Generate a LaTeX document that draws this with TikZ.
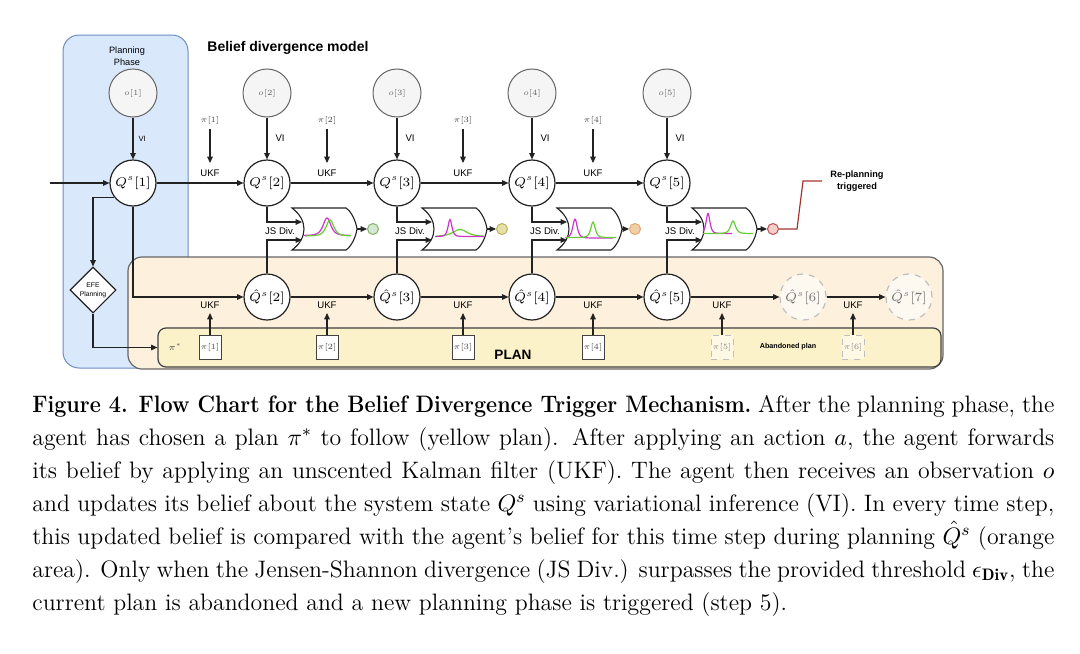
\RequirePackage{fix-cm}
\documentclass[tikz,border=0pt]{standalone}
\usepackage{graphicx}
\usepackage{fontspec}
\setsansfont{Liberation Sans}
\usetikzlibrary{arrows.meta,shapes.geometric}
\definecolor{blueF}{HTML}{DAE8FC}
\definecolor{blueD}{HTML}{6C8EBF}
\definecolor{orgF}{HTML}{FDF1DD}
\definecolor{yelF}{HTML}{FCF2C9}
\definecolor{obsF}{HTML}{F5F5F5}
\definecolor{obsD}{HTML}{666666}
\definecolor{lineC}{HTML}{222222}
\definecolor{magC}{HTML}{CC33CC}
\definecolor{grnC}{HTML}{66CC33}
\definecolor{cAF}{HTML}{D5E8D4}\definecolor{cAD}{HTML}{82B366}
\definecolor{cBF}{HTML}{E4E1A8}\definecolor{cBD}{HTML}{BFB35A}
\definecolor{cCF}{HTML}{F3CFA8}\definecolor{cCD}{HTML}{E0A870}
\definecolor{cDF}{HTML}{F8CECC}\definecolor{cDD}{HTML}{B85450}
\definecolor{redL}{HTML}{A33330}
\newcommand\capfont{\rmfamily\fontsize{11.9}{16.5}\selectfont}
\newcommand\gateshape{\path[gatestyle] (0,0) -- (54,0) .. controls (60,4) and (64,14) .. (65,21) .. controls (64,28) and (60,38) .. (54,42) -- (0,42) .. controls (16,30) and (16,12) .. (0,0) -- cycle;}
\newcommand\pk[6]{\draw[#1, line width=0.6pt] plot[domain=#2, samples=70, smooth] (\x, {#3 - #4*(1/(1+((\x-#5)/#6)^2))^2});}
\begin{document}
\begin{tikzpicture}[x=0.5pt,y=-0.5pt,
  ln/.style={draw=lineC, line width=0.55pt},
  arr/.style={ln, -{Triangle[length=3.2pt,width=2.8pt]}},
  obs/.style={circle, draw=obsD, fill=obsF, line width=0.5pt, minimum size=24pt, inner sep=0pt, font=\fontsize{4}{5}\selectfont, text=obsD},
  qs/.style={circle, draw=lineC, fill=white, line width=0.6pt, minimum size=23pt, inner sep=0pt, font=\fontsize{6.3}{7}\selectfont},
  qd/.style={qs, draw=black!25, dashed, fill=orgF!45!white, text=black!55},
  lab/.style={font=\sffamily\fontsize{4.8}{5.5}\selectfont, inner sep=0pt},
  pil/.style={font=\fontsize{4}{5}\selectfont, text=black!70, inner sep=0pt},
  pib/.style={rectangle, draw=lineC!85, fill=white, minimum width=11pt, minimum height=12pt, inner sep=0pt, font=\fontsize{4}{5}\selectfont, text=black!70, line width=0.5pt},
  pibd/.style={pib, draw=black!25, dashed, fill=yelF!50!white, text=black!45},
  gatestyle/.style={draw=lineC, fill=white, line width=0.55pt},
  outc/.style={circle, minimum size=5.5pt, inner sep=0pt, line width=0.5pt},
  mag/.style={draw=magC},
  grn/.style={draw=grnC}
]
\useasboundingbox (0,0) rectangle (1080,653);
\fill[white] (0,0) rectangle (1080,653);

% regions
\node[draw=blueD, fill=blueF, rounded corners=8pt, line width=0.5pt, minimum width=62.5pt, minimum height=166.5pt, inner sep=0pt] (phase) at (125.5,201.5) {};
\node[draw=black!60, fill=orgF, rounded corners=7pt, line width=0.6pt, minimum width=407.5pt, minimum height=56pt, inner sep=0pt] (orange) at (535.5,313) {};
\node[draw=black!75, fill=yelF, rounded corners=4pt, line width=0.6pt, minimum width=391.5pt, minimum height=19.5pt, inner sep=0pt] (plan) at (549.5,347.5) {};

% texts
\node[font=\sffamily\fontsize{4.6}{6}\selectfont, align=center, inner sep=0pt] (phtxt) at (127,56) {Planning\\Phase};
\node[anchor=west, inner sep=0pt, font=\sffamily\bfseries\fontsize{7}{8}\selectfont] (title) at (207,48) {Belief divergence model};
\node[inner sep=0pt, font=\sffamily\bfseries\fontsize{6.8}{8}\selectfont] (plantxt) at (513,355) {PLAN};
\node[inner sep=0pt, font=\sffamily\bfseries\fontsize{3.6}{4}\selectfont] (aband) at (788,347) {Abandoned plan};
\node[inner sep=0pt, font=\sffamily\bfseries\fontsize{4.6}{6}\selectfont, align=center] (rptxt) at (857,181) {Re-planning\\triggered};

% observations
\node[obs] (o1) at (133,93) {$o[1]$};
\node[obs] (o2) at (267,93) {$o[2]$};
\node[obs] (o3) at (397,93) {$o[3]$};
\node[obs] (o4) at (532,93) {$o[4]$};
\node[obs] (o5) at (667,93) {$o[5]$};

% beliefs
\node[qs] (Qs1) at (133,183) {$Q^s[1]$};
\node[qs] (Qs2) at (267,183) {$Q^s[2]$};
\node[qs] (Qs3) at (397,183) {$Q^s[3]$};
\node[qs] (Qs4) at (532,183) {$Q^s[4]$};
\node[qs] (Qs5) at (667,183) {$Q^s[5]$};

\node[qs] (Qh2) at (267,297) {$\hat{Q}^s[2]$};
\node[qs] (Qh3) at (397,297) {$\hat{Q}^s[3]$};
\node[qs] (Qh4) at (532,297) {$\hat{Q}^s[4]$};
\node[qs] (Qh5) at (667,297) {$\hat{Q}^s[5]$};
\node[qd] (Qh6) at (803,297) {$\hat{Q}^s[6]$};
\node[qd] (Qh7) at (909,297) {$\hat{Q}^s[7]$};

\node[diamond, draw=lineC, fill=white, line width=0.55pt, minimum width=23pt, minimum height=23pt, inner sep=0pt, align=center, font=\sffamily\fontsize{3.4}{4.6}\selectfont] (efe) at (93,290) {EFE\\Planning};

% VI arrows
\draw[arr] (o1) -- node[right=2.5pt, inner sep=0pt, font=\sffamily\fontsize{3.8}{4.5}\selectfont] (vi1) {VI} (Qs1);
\draw[arr] (o2) -- node[right=4pt, lab] (vi2) {VI} (Qs2);
\draw[arr] (o3) -- node[right=4pt, lab] (vi3) {VI} (Qs3);
\draw[arr] (o4) -- node[right=4pt, lab] (vi4) {VI} (Qs4);
\draw[arr] (o5) -- node[right=4pt, lab] (vi5) {VI} (Qs5);

% top row UKF
\coordinate (inL) at (50,183);
\draw[arr] (inL) -- (Qs1);
\draw[arr] (Qs1) -- (Qs2);
\draw[arr] (Qs2) -- (Qs3);
\draw[arr] (Qs3) -- (Qs4);
\draw[arr] (Qs4) -- (Qs5);
\foreach \i/\xx in {1/210,2/327,3/463,4/593}{
  \node[pil] (pt\i) at (\xx,120) {$\pi[\i]$};
  \coordinate (pe\i) at (\xx,163);
  \draw[arr] ([yshift=-2.5pt]pt\i.south) -- (pe\i);
  \node[lab] (ukt\i) at (\xx,173) {UKF};
}

% planning links
\draw[arr] (Qs1.217) -| (efe.north);
\draw[arr] (efe.south) |- (plan.west);
\node[pil, font=\fontsize{4.4}{5}\selectfont] (pistar) at (175,347) {$\pi^*$};
\draw[arr] (Qs1.south) |- (Qh2);

% hat row
\draw[arr] (Qh2) -- (Qh3);
\draw[arr] (Qh3) -- (Qh4);
\draw[arr] (Qh4) -- (Qh5);
\draw[arr] (Qh5) -- (Qh6);
\draw[arr] (Qh6) -- (Qh7);
\foreach \i/\xx in {1/210,2/327,3/463,4/593}{
  \node[pib] (pb\i) at (\xx,347) {$\pi[\i]$};
}
\foreach \i/\xx in {5/722,6/853}{
  \node[pibd] (pb\i) at (\xx,347) {$\pi[\i]$};
}
\foreach \i/\xx in {1/210,2/327,3/463,4/593,5/722,6/853}{
  \coordinate (pu\i) at (\xx,313);
  \draw[arr] (pb\i.north) -- (pu\i);
  \node[lab] (ukb\i) at (\xx,305) {UKF};
}

% JS divergence gates
\begin{scope}[shift={(292,208)}]
  \gateshape
  \coordinate (gA2) at (10,14); \coordinate (gB2) at (10,32); \coordinate (gT2) at (65,21);
  \node[outc, fill=cAF, draw=cAD] (out2) at (81,21) {};
  \pk{mag}{12:59}{27.5}{17.5}{35}{7}
  \pk{grn}{13:59}{28}{16}{38}{7}
\end{scope}
\begin{scope}[shift={(422,208)}]
  \gateshape
  \coordinate (gA3) at (10,14); \coordinate (gB3) at (10,32); \coordinate (gT3) at (65,21);
  \node[outc, fill=cBF, draw=cBD] (out3) at (80,21) {};
  \pk{grn}{14:62}{28.5}{7}{38}{13}
  \pk{mag}{13:62}{28.5}{17}{28}{3.5}
\end{scope}
\begin{scope}[shift={(557,208)}]
  \gateshape
  \coordinate (gA4) at (10,14); \coordinate (gB4) at (10,32); \coordinate (gT4) at (65,21);
  \node[outc, fill=cCF, draw=cCD] (out4) at (78,21) {};
  \pk{mag}{8:56}{30}{19}{18}{4}
  \pk{grn}{8:59}{29.5}{15.5}{36}{4}
\end{scope}
\begin{scope}[shift={(692,208)}]
  \gateshape
  \coordinate (gA5) at (10,14); \coordinate (gB5) at (10,32); \coordinate (gT5) at (65,21);
  \node[outc, fill=cDF, draw=cDD] (out5) at (81,21) {};
  \pk{mag}{11:40}{25.5}{20}{16}{3.5}
  \pk{grn}{11:61}{25.5}{12.5}{41}{4.5}
\end{scope}
\foreach \i in {2,3,4,5}{
  \draw[arr] (Qs\i.south) |- (gA\i);
  \draw[arr] (Qh\i.north) |- (gB\i);
  \draw[arr] (gT\i) -- (out\i);
}
\foreach \i/\xx in {2/267,3/397,4/532,5/667}{
  \node[lab, fill=white, inner sep=0.3pt] (js\i) at (\xx+13,231) {JS Div.};
}

% re-planning
\coordinate (rp1) at (797,229);
\coordinate (rp2) at (803,181);
\coordinate (rp3) at (822,181);
\draw[redL, line width=0.6pt] (out5.east) -- (rp1) -- (rp2) -- (rp3);

% caption
\node[anchor=base west, inner sep=0pt] (caption) at (32,412) {\capfont\vtop{\hsize=511pt\baselineskip=16.5pt
\hbox to\hsize{\scalebox{0.905}[1]{\bfseries Figure~4. Flow~Chart~for~the~Belief~Divergence~Trigger~Mechanism.} After the planning phase, the}
\hbox to\hsize{agent has chosen a plan $\pi^*$ to follow (yellow plan). After applying an action $a$, the agent forwards}
\hbox to\hsize{its belief by applying an unscented Kalman filter (UKF). The agent then receives an observation $o$}
\hbox to\hsize{and updates its belief about the system state $Q^s$ using variational inference (VI). In every time step,}
\hbox to\hsize{this updated belief is compared with the agent's belief for this time step during planning $\hat{Q}^s$ (orange}
\hbox to\hsize{area). Only when the Jensen-Shannon divergence (JS Div.) surpasses the provided threshold $\epsilon_{\mathbf{Div}}$, the}
\hbox{current plan is abandoned and a new planning phase is triggered (step 5).}}};
\end{tikzpicture}
\end{document}
